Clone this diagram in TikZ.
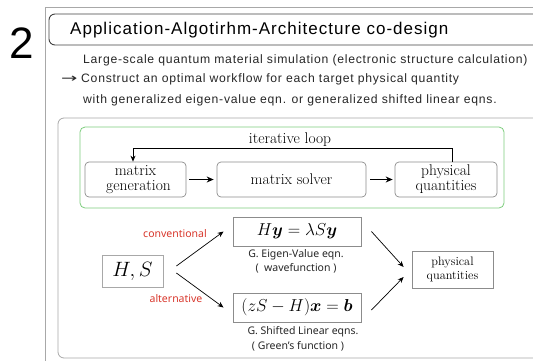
\documentclass[tikz,border=0pt]{standalone}
\usepackage{amsmath}
\usepackage{graphicx}
\usepackage{fontspec}
\usetikzlibrary{arrows.meta}
\newfontfamily\titlefont[LetterSpace=6]{Liberation Sans}
\newfontfamily\plainsans{Liberation Sans}
\newfontfamily\symfont{DejaVu Sans}
\newfontfamily\labelfont{Noto Sans}
\definecolor{framegray}{HTML}{A8A8A8}
\definecolor{boxgray}{HTML}{8C8C8C}
\definecolor{loopgreen}{RGB}{125,205,125}
\definecolor{accentred}{HTML}{D8372C}
\begin{document}
\begin{tikzpicture}[x=1pt,y=-1pt,
  txt/.style={inner sep=0pt},
  procbox/.style={draw=boxgray,line width=0.7pt,rounded corners=4pt,inner sep=0pt,align=center,font=\fontsize{15.5}{15}\selectfont},
  eqbox/.style={draw=boxgray,line width=0.9pt,inner sep=0pt},
  arr/.style={-{Stealth[length=6pt,width=5pt]},line width=0.7pt,black},
  thickarr/.style={-{Stealth[length=7pt,width=6pt]},line width=1.1pt,black},
  caption/.style={inner sep=0pt,font=\labelfont\fontsize{10.5}{12}\selectfont,text=black!85},
  redlabel/.style={inner sep=0pt,font=\labelfont\fontsize{10.5}{12}\selectfont,text=accentred},
  subline/.style={inner sep=0pt,anchor=west,font=\titlefont\fontsize{12.2}{12}\selectfont,text=black!85}]
\useasboundingbox (0,0) rectangle (533,360);
% big number
\node[txt,font=\plainsans\fontsize{44}{44}\selectfont] (num) at (21.5,43) {2};
% outer frame
\draw[framegray,line width=0.8pt] (45,361) -- (45,7) -- (534,7);
% title box
\draw[black!75,line width=0.9pt,rounded corners=6pt] (536,14) -- (49,14) -- (49,45) -- (536,45);
\node[txt,anchor=west,font=\titlefont\fontsize{17}{17}\selectfont] (title) at (70,30) {Application-Algotirhm-Architecture co-design};
\node[subline] (sub1) at (83,60) {Large-scale quantum material simulation (electronic structure calculation)};
\node[txt,anchor=west,font=\symfont\fontsize{12.2}{12}\selectfont,text=black!85] (subarrow) at (61,79.5) {\scalebox{1.6}[1]{→}};
\node[subline] (sub2) at (81,79.5) {Construct an optimal workflow for each target physical quantity};
\node[subline] (sub3) at (83,100) {with generalized eigen-value eqn. or generalized shifted linear eqns.};
% inner gray box
\draw[framegray,line width=0.8pt,rounded corners=6pt] (536,118) -- (58,118) -- (58,358) -- (536,358);
% green loop box
\draw[loopgreen,line width=0.8pt,rounded corners=5pt] (80,127) rectangle (504,208);
\node[txt,font=\fontsize{15.5}{15}\selectfont] (looplabel) at (290,140) {iterative loop};
% process boxes
\node[procbox,minimum width=101pt,minimum height=35pt] (mg) at (135.5,179.5) {matrix\\\hspace*{6pt}generation};
\node[procbox,minimum width=149pt,minimum height=35pt] (ms) at (291.5,179.5) {matrix solver};
\node[procbox,minimum width=102pt,minimum height=35pt] (pq) at (446,179.5) {physical\\quantities};
\draw[thickarr] ([xshift=3pt]mg.east) -- ([xshift=-3pt]ms.west);
\draw[thickarr] ([xshift=4pt]ms.east) -- ([xshift=-2pt]pq.west);
\draw[arr] ([xshift=6pt]pq.north) |- (133,148) -- ([xshift=-2.5pt]mg.north);
% bottom part
\node[draw=framegray,line width=0.8pt,inner sep=0pt,minimum width=61pt,minimum height=32pt,font=\fontsize{22}{22}\selectfont] (hs) at (132.5,271) {$H,S$};
\node[eqbox,minimum width=128pt,minimum height=29pt,font=\fontsize{18}{18}\selectfont] (eig) at (297,231.5) {$H\boldsymbol{y}=\lambda S\boldsymbol{y}$};
\node[eqbox,minimum width=128pt,minimum height=29pt,font=\fontsize{18}{18}\selectfont] (lin) at (297,307.5) {$(zS-H)\boldsymbol{x}=\boldsymbol{b}$};
\node[draw=boxgray,line width=0.8pt,inner sep=0pt,minimum width=81pt,minimum height=37pt,align=center,font=\fontsize{12.3}{14}\selectfont] (pq2) at (452.5,269.5) {physical\\quantities};
\node[caption] (eigcap) at (296,255) {G. Eigen-Value eqn.};
\node[caption] (eigcap2) at (296,268) {(\ \ wavefunction )};
\node[caption] (lincap) at (303,332) {G. Shifted Linear eqns.};
\node[caption] (lincap2) at (298,346) {( Green’s function )};
\node[redlabel] (conv) at (175,234) {conventional};
\node[redlabel] (alt) at (176,299) {alternative};
\draw[arr] ([xshift=13pt,yshift=5pt]hs.east) -- ([xshift=-9pt]eig.west);
\draw[arr] ([xshift=13pt,yshift=-2pt]hs.east) -- ([xshift=-9pt]lin.west);
\draw[arr] ([xshift=10pt]eig.east) -- ([xshift=-8pt,yshift=2.5pt]pq2.west);
\draw[arr] ([xshift=10pt,yshift=-2.5pt]lin.east) -- ([xshift=-8pt,yshift=-7.5pt]pq2.west);
\end{tikzpicture}
\end{document}
